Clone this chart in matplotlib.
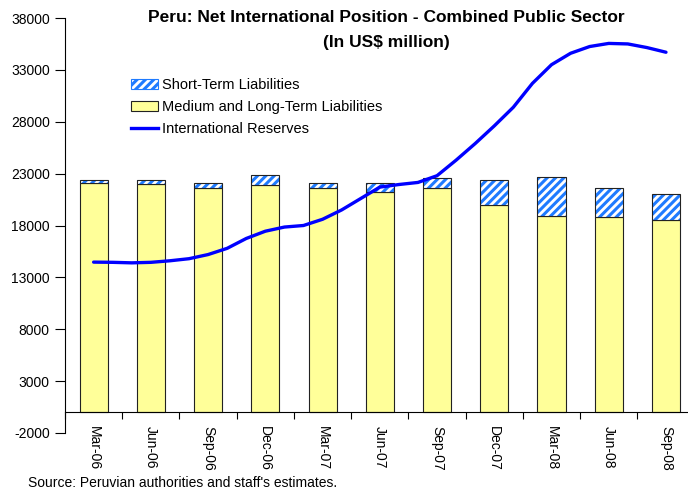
import numpy as np
import matplotlib
matplotlib.use('Agg')
from matplotlib import pyplot as plt
from matplotlib.patches import Patch
from matplotlib.lines import Line2D

plt.rcParams['font.family'] = ['Liberation Sans', 'DejaVu Sans']
plt.rcParams['hatch.linewidth'] = 2.2
plt.rcParams['axes.unicode_minus'] = False

# quarterly liabilities (US$ million)
quarters = ['Mar-06', 'Jun-06', 'Sep-06', 'Dec-06', 'Mar-07', 'Jun-07',
            'Sep-07', 'Dec-07', 'Mar-08', 'Jun-08', 'Sep-08']
medium_long = [22080, 21980, 21660, 21920, 21600, 21210,
               21600, 20020, 18960, 18800, 18510]
short_term = [320, 420, 450, 990, 510, 870,
              960, 2380, 3700, 2800, 2510]

# monthly international reserves, Mar-06 .. Sep-08
reserves = [14470, 14450, 14400, 14450, 14600, 14800, 15200, 15800, 16750,
            17450, 17850, 18000, 18600, 19500, 20600, 21700, 21950, 22150,
            22800, 24300, 25900, 27600, 29400, 31700, 33500, 34600, 35250,
            35550, 35500, 35150, 34700]

YELLOW = '#FFFF99'
BLUE_HATCH = '#1F7BFF'
LINE_BLUE = '#0000FF'

fig = plt.figure(figsize=(6.88, 4.91), dpi=100)
ax = fig.add_axes([65/688, 58/491, 629.6/688, 415/491])

x = np.arange(len(quarters))
w = 0.49
ax.bar(x, medium_long, w, color=YELLOW, edgecolor='#222222', linewidth=0.8, zorder=2)
ax.bar(x, short_term, w, bottom=medium_long, color='white', edgecolor=BLUE_HATCH,
       hatch='////', linewidth=0, zorder=2)
ax.bar(x, short_term, w, bottom=medium_long, fill=False, edgecolor='#222222',
       linewidth=0.8, zorder=3)

xm = np.arange(len(reserves)) / 3.0
ax.plot(xm, reserves, color=LINE_BLUE, linewidth=2.4, zorder=4,
        solid_joinstyle='round', solid_capstyle='round')

ax.set_xlim(-0.5, 10.5)
ax.set_ylim(-2000, 38000)
ax.set_yticks(np.arange(-2000, 38001, 5000))
ax.tick_params(axis='y', labelsize=10, length=7, width=0.8, pad=4)

ax.set_xticks(x)
ax.set_xticklabels(quarters)
ax.set_xticks(np.arange(-0.5, 10.6, 1), minor=True)
ax.tick_params(axis='x', which='major', length=0, pad=10, labelsize=10,
               labelrotation=270)
ax.tick_params(axis='x', which='minor', length=5, width=0.8, direction='out')

ax.spines['bottom'].set_position(('data', 0))
ax.spines['top'].set_visible(False)
ax.spines['right'].set_visible(False)
for s in ('left', 'bottom'):
    ax.spines[s].set_linewidth(0.8)

fig.text(386/688, 1 - 18/491, 'Peru: Net International Position - Combined Public Sector',
         ha='center', va='center', fontsize=12.5, fontweight='bold')
fig.text(386/688, 1 - 43/491, '(In US$ million)',
         ha='center', va='center', fontsize=12.5, fontweight='bold')

handles = [
    Patch(facecolor='white', edgecolor=BLUE_HATCH, hatch='////', linewidth=0.8),
    Patch(facecolor=YELLOW, edgecolor='#222222', linewidth=0.8),
    Line2D([0], [0], color=LINE_BLUE, linewidth=2.4),
]
labels = ['Short-Term Liabilities', 'Medium and Long-Term Liabilities',
          'International Reserves']
fig.legend(handles, labels, loc='upper left', bbox_to_anchor=(124/688, 1 - 71/491),
           frameon=False, fontsize=10.5, handlelength=1.8, handleheight=0.7,
           handletextpad=0.3, labelspacing=0.55, borderpad=0)

fig.text(28/688, 1 - 483/491, "Source: Peruvian authorities and staff's estimates.",
         ha='left', va='center', fontsize=10)

fig.savefig('out.png', dpi=100)
